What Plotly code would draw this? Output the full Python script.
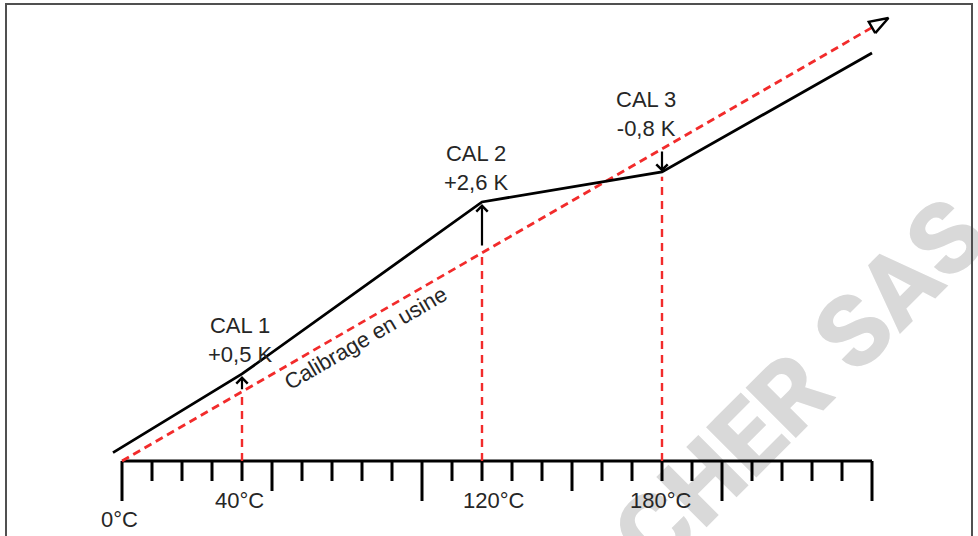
import math
import plotly.graph_objects as go

# Calibration points (temperature in °C) and their labels
cal_temps = [40, 120, 180]
cal_names = ["CAL 1", "CAL 2", "CAL 3"]
cal_offsets = ["+0,5 K", "+2,6 K", "-0,8 K"]

# Factory calibration line (schematic)
factory_x = [0, 250]
factory_y = [0, 247]

# Corrected curve through the calibration points (schematic units)
curve_x = [-3, 40, 120, 180, 250]
curve_y = [4.8, 49.6, 147.6, 164.7, 232.5]

# Correction arrows: start value -> end value, at each calibration temperature
arrow_from = [40.0, 121.9, 177.2]
arrow_to = [48.4, 146.4, 164.8]

# Height reached by the red dashed guides
guide_top = [39.5, 118.6, 162]

# Temperature scale
tick_temps = list(range(0, 251, 10))
tick_label_temps = [0, 40, 120, 180]
tick_labels = ["0°C", "40°C", "120°C", "180°C"]

# ---- drawing scale (px per unit) ----
PX_X = 3.0
PX_Y = 1.755
W, H = 978, 536
X0_PX, Y0_PX = 122, 461

FONT = "Arial, Liberation Sans, sans-serif"
TXT = "#262626"
RED = "#f22b2b"


def to_px(t, v):
    return X0_PX + PX_X * t, Y0_PX - PX_Y * v


def to_data(px, py):
    return (px - X0_PX) / PX_X, (Y0_PX - py) / PX_Y


fig = go.Figure()

# axis line + ticks
ax_x, ax_y = [0, 250, None], [0, 0, None]
for t in tick_temps:
    if t in (0, 100, 200, 250):
        ln = 40
    elif t % 50 == 0:
        ln = 30
    else:
        ln = 20
    ax_x += [t, t, None]
    ax_y += [0, -ln / PX_Y, None]
fig.add_trace(go.Scatter(x=ax_x, y=ax_y, mode="lines",
                         line=dict(color="black", width=3)))

# red dashed vertical guides
gx, gy = [], []
for t, top in zip(cal_temps, guide_top):
    gx += [t, t, None]
    gy += [0, top, None]
fig.add_trace(go.Scatter(x=gx, y=gy, mode="lines",
                         line=dict(color=RED, width=2.4, dash="8px,6px")))

# factory line
fig.add_trace(go.Scatter(x=factory_x, y=factory_y, mode="lines",
                         line=dict(color=RED, width=2.8, dash="8px,5px")))

# open arrow head at the end of the factory line
ex, ey = to_px(factory_x[-1], factory_y[-1])
sx, sy = to_px(factory_x[0], factory_y[0])
d = math.hypot(ex - sx, ey - sy)
ux, uy = (ex - sx) / d, (ey - sy) / d
head_len, head_half = 19, 6.5
tip = (ex + head_len * ux, ey + head_len * uy)
b1 = (ex - head_half * uy, ey + head_half * ux)
b2 = (ex + head_half * uy, ey - head_half * ux)
hx, hy = zip(*[to_data(*p) for p in (b1, tip, b2, b1)])
fig.add_trace(go.Scatter(x=list(hx), y=list(hy), mode="lines",
                         line=dict(color="black", width=2.4)))

# corrected curve
fig.add_trace(go.Scatter(x=curve_x, y=curve_y, mode="lines",
                         line=dict(color="black", width=2.8)))

# correction arrows
for t, a0, a1 in zip(cal_temps, arrow_from, arrow_to):
    fig.add_annotation(x=t, y=a1, ax=t, ay=a0, xref="x", yref="y", axref="x", ayref="y",
                       text="", showarrow=True, arrowhead=4, arrowsize=1,
                       arrowwidth=2.2, arrowcolor="black", standoff=0, startstandoff=0)

# CAL labels
label_dx = [-2, -6, -16]
for t, a0, a1, n, o, dx in zip(cal_temps, arrow_from, arrow_to, cal_names, cal_offsets, label_dx):
    fig.add_annotation(x=t, y=max(a0, a1), xref="x", yref="y", text=f"{n}<br>{o}",
                       showarrow=False, xshift=dx, yshift=36, yanchor="middle",
                       font=dict(family=FONT, size=22, color=TXT))

# tick labels
tick_dx = [-3, -3, 12, -1]
for t, lab, dx in zip(tick_label_temps, tick_labels, tick_dx):
    fig.add_annotation(x=t, y=0, xref="x", yref="y", text=lab, showarrow=False,
                       xshift=dx, yshift=-58 if t == 0 else -39, yanchor="middle",
                       font=dict(family=FONT, size=22, color=TXT))

# label along factory line
slope = factory_y[-1] / factory_x[-1]
angle = math.degrees(math.atan(PX_Y * slope / PX_X))
fig.add_annotation(x=81, y=81 * slope, xref="x", yref="y", text="Calibrage en usine",
                   showarrow=False, textangle=-angle, yshift=-18,
                   font=dict(family=FONT, size=22, color=TXT))

# watermark
fig.add_shape(type="line", xref="paper", yref="paper",
              x0=615 / W, y0=1 - 560 / H, x1=975 / W, y1=1 - 200 / H,
              line=dict(color="rgba(0,0,0,0)", width=1), layer="below",
              label=dict(text="CHER SAS", textposition="middle", yanchor="middle",
                         font=dict(family="Roboto, DejaVu Sans, sans-serif", size=100,
                                   weight=900, color="#d9d9d9")))

# frame
fig.add_shape(type="rect", xref="paper", yref="paper",
              x0=6 / W, x1=972 / W, y0=-0.05, y1=1 - 4 / H,
              line=dict(color="#505050", width=2), layer="above")

fig.update_layout(
    width=W, height=H,
    margin=dict(l=0, r=0, t=0, b=0),
    paper_bgcolor="white", plot_bgcolor="white",
    showlegend=False,
    xaxis=dict(range=[-X0_PX / PX_X, (W - X0_PX) / PX_X], visible=False, fixedrange=True),
    yaxis=dict(range=[-(H - Y0_PX) / PX_Y, Y0_PX / PX_Y], visible=False, fixedrange=True),
)

fig.write_html("out.html", config={"displayModeBar": False},
               post_script="document.body.style.margin='0';")
